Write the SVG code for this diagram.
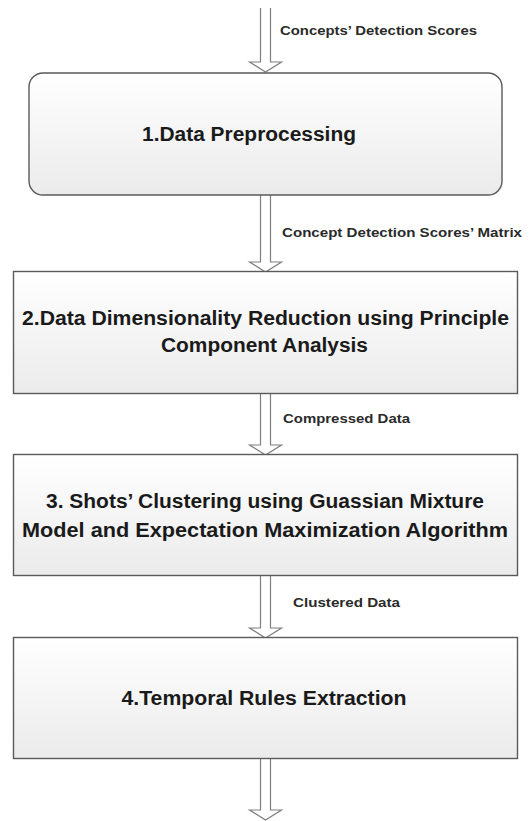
<svg xmlns="http://www.w3.org/2000/svg" width="532" height="821" viewBox="0 0 532 821">
<defs>
<linearGradient id="boxfill" x1="0" y1="0" x2="0" y2="1">
<stop offset="0" stop-color="#ffffff"/>
<stop offset="1" stop-color="#ebebeb"/>
</linearGradient>
</defs>
<style>
.box{fill:url(#boxfill);stroke:#5a5a5a;stroke-width:1.4}
.arrow{fill:#ffffff;stroke:#7f7f7f;stroke-width:1.2;stroke-linejoin:miter}
.title{font-family:"Liberation Sans",Arial,sans-serif;font-weight:bold;font-size:20px;fill:#1a1a1a;text-anchor:middle}
.label{font-family:"Liberation Sans",Arial,sans-serif;font-weight:bold;font-size:13px;fill:#2a2a2a}
</style>
<rect width="532" height="821" fill="#ffffff"/>
<g id="connectors">
<path class="arrow" d="M260.5,8 V62 H249.5 L265.5,72 L281.5,62 H270.5 V8"/>
<path class="arrow" d="M260.5,195 V262 H249.5 L265.5,272 L281.5,262 H270.5 V195"/>
<path class="arrow" d="M260.5,393 V445 H249.5 L265.5,455 L281.5,445 H270.5 V393"/>
<path class="arrow" d="M260.5,575 V628 H249.5 L265.5,638 L281.5,628 H270.5 V575"/>
<path class="arrow" d="M260.5,759 V810 H249.5 L265.5,820 L281.5,810 H270.5 V759"/>
<text class="label" x="280" y="35" textLength="197" lengthAdjust="spacingAndGlyphs">Concepts’ Detection Scores</text>
<text class="label" x="282" y="237" textLength="240" lengthAdjust="spacingAndGlyphs">Concept Detection Scores’ Matrix</text>
<text class="label" x="283" y="423" textLength="127" lengthAdjust="spacingAndGlyphs">Compressed Data</text>
<text class="label" x="293" y="607" textLength="107" lengthAdjust="spacingAndGlyphs">Clustered Data</text>
</g>
<g id="node1">
<rect class="box" x="29" y="73" width="473" height="122" rx="14" ry="14"/>
<text class="title" x="249" y="141" textLength="214" lengthAdjust="spacingAndGlyphs">1.Data Preprocessing</text>
</g>
<g id="node2">
<rect class="box" x="13.5" y="271.5" width="504" height="122"/>
<text class="title" x="265.5" y="325" textLength="487" lengthAdjust="spacingAndGlyphs">2.Data Dimensionality Reduction using Principle</text>
<text class="title" x="264.5" y="352" textLength="207" lengthAdjust="spacingAndGlyphs">Component Analysis</text>
</g>
<g id="node3">
<rect class="box" x="13.5" y="454.5" width="504" height="121"/>
<text class="title" x="265" y="508" textLength="438" lengthAdjust="spacingAndGlyphs">3. Shots’ Clustering using Guassian Mixture</text>
<text class="title" x="265" y="537" textLength="486" lengthAdjust="spacingAndGlyphs">Model and Expectation Maximization Algorithm</text>
</g>
<g id="node4">
<rect class="box" x="13.5" y="637.5" width="504" height="121"/>
<text class="title" x="264" y="705" textLength="285" lengthAdjust="spacingAndGlyphs">4.Temporal Rules Extraction</text>
</g>
</svg>
